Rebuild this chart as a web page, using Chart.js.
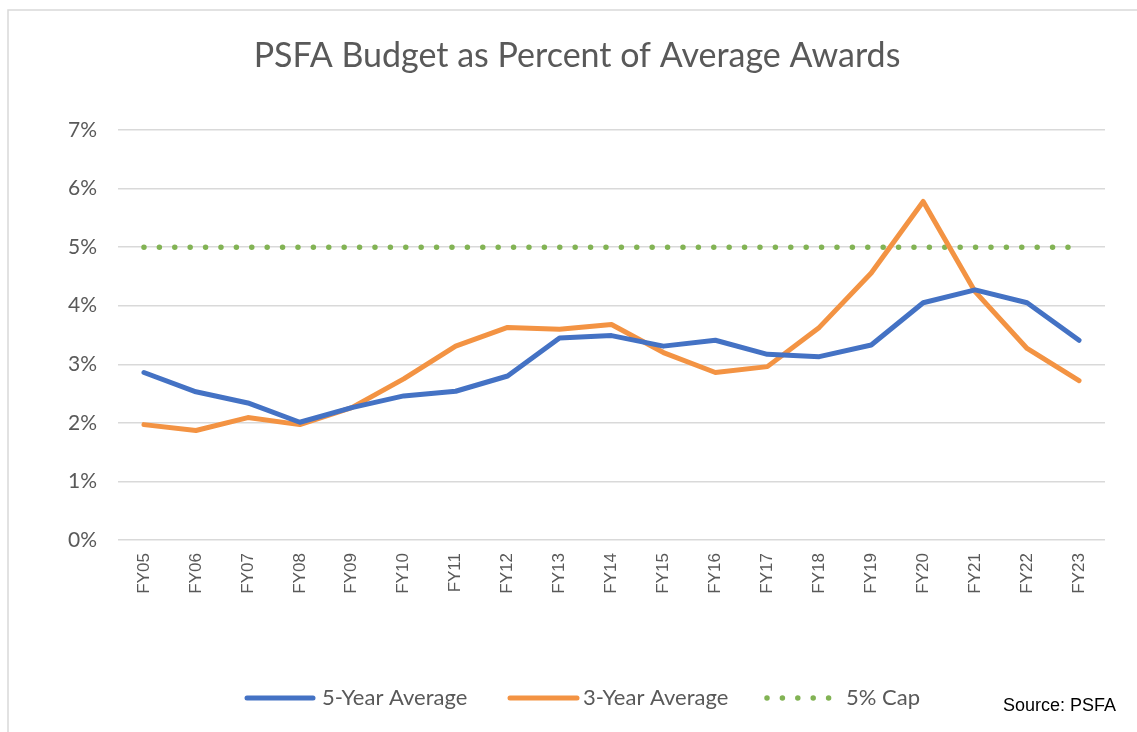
<!DOCTYPE html>
<html>
<head>
<meta charset="utf-8">
<script src="https://cdn.jsdelivr.net/npm/chart.js@4.4.0/dist/chart.umd.min.js"></script>
<style>
  html, body { margin: 0; padding: 0; background: #fff; }
  #wrap { position: relative; width: 1137px; height: 732px; }
</style>
</head>
<body>
<div id="wrap"><canvas id="c" width="1137" height="732"></canvas></div>
<script>
const categories = ['FY05','FY06','FY07','FY08','FY09','FY10','FY11','FY12','FY13','FY14','FY15','FY16','FY17','FY18','FY19','FY20','FY21','FY22','FY23'];
const fiveYearAvg = [2.86, 2.53, 2.34, 2.01, 2.26, 2.46, 2.54, 2.80, 3.45, 3.49, 3.31, 3.41, 3.17, 3.13, 3.33, 4.05, 4.27, 4.05, 3.41];
const threeYearAvg = [1.97, 1.87, 2.09, 1.97, 2.26, 2.75, 3.31, 3.63, 3.60, 3.68, 3.20, 2.86, 2.96, 3.63, 4.56, 5.78, 4.24, 3.27, 2.72];
const capValues = [5, 5, 5, 5, 5, 5, 5, 5, 5, 5, 5, 5, 5, 5, 5, 5, 5, 5, 5];
const yTicks = [0, 1, 2, 3, 4, 5, 6, 7];
const titleText = 'PSFA Budget as Percent of Average Awards';
const sourceText = 'Source: PSFA';

const BLUE = '#4472C4';
const ORANGE = '#F39343';
const GREEN = '#82B354';

const decor = {
  id: 'decor',
  beforeDraw(chart) {
    const ctx = chart.ctx;
    ctx.save();
    ctx.fillStyle = '#fff';
    ctx.fillRect(0, 0, chart.width, chart.height);
    ctx.strokeStyle = '#d9d9d9';
    ctx.lineWidth = 1.5;
    ctx.beginPath();
    ctx.moveTo(8, 732);
    ctx.lineTo(8, 10);
    ctx.lineTo(1137, 10);
    ctx.stroke();
    ctx.restore();
  },
  afterDraw(chart) {
    const ctx = chart.ctx;
    ctx.save();
    // title
    ctx.fillStyle = '#595959';
    ctx.font = '34px Lato, "Open Sans", sans-serif';
    ctx.textAlign = 'center';
    ctx.textBaseline = 'middle';
    ctx.fillText(titleText, 577, 56);
    // legend
    const ds = chart.data.datasets;
    const items = [
      { x: 247, w: 66, tx: 322 },
      { x: 510, w: 67, tx: 583 },
      { x: 767, w: 72, tx: 846 }
    ];
    const ly = 698;
    ctx.font = '22px Lato, "Open Sans", sans-serif';
    ctx.textAlign = 'left';
    ds.forEach((d, i) => {
      const it = items[i];
      ctx.strokeStyle = d.borderColor;
      ctx.lineWidth = d.borderWidth;
      ctx.lineCap = 'round';
      ctx.setLineDash(d.borderDash || []);
      ctx.beginPath();
      ctx.moveTo(it.x, ly);
      ctx.lineTo(it.x + it.w, ly);
      ctx.stroke();
      ctx.setLineDash([]);
      ctx.fillStyle = '#595959';
      ctx.fillText(d.label, it.tx, ly);
    });
    // source
    ctx.fillStyle = '#000';
    ctx.font = '18px "Liberation Sans", Arial, sans-serif';
    ctx.textAlign = 'left';
    ctx.fillText(sourceText, 1003, 706);
    ctx.restore();
  }
};

new Chart(document.getElementById('c'), {
  type: 'line',
  data: {
    labels: categories,
    datasets: [
      { label: '5-Year Average', data: fiveYearAvg, borderColor: BLUE, backgroundColor: BLUE, borderWidth: 5, pointRadius: 0, tension: 0, borderCapStyle: 'round', borderJoinStyle: 'round' },
      { label: '3-Year Average', data: threeYearAvg, borderColor: ORANGE, backgroundColor: ORANGE, borderWidth: 5, pointRadius: 0, tension: 0, borderCapStyle: 'round', borderJoinStyle: 'round' },
      { label: '5% Cap', data: capValues, borderColor: GREEN, backgroundColor: GREEN, borderWidth: 5.5, pointRadius: 0, tension: 0, borderCapStyle: 'round', borderDash: [0, 15.4] }
    ]
  },
  options: {
    responsive: false,
    animation: false,
    events: [],
    layout: { padding: { left: 0, top: 130, right: 32, bottom: 0 } },
    plugins: { legend: { display: false }, title: { display: false }, tooltip: { enabled: false } },
    scales: {
      x: {
        offset: true,
        grid: { display: false, drawTicks: false, offset: true },
        border: { display: false },
        afterFit(s) { s.height = 192; },
        ticks: {
          minRotation: 90, maxRotation: 90, padding: 13,
          color: '#595959',
          font: { family: '"Liberation Sans", Arial, sans-serif', size: 17 }
        }
      },
      y: {
        min: 0, max: 7,
        afterFit(s) { s.width = 118; },
        afterBuildTicks(s) { s.ticks = yTicks.map(v => ({ value: v })); },
        grid: { color: '#d9d9d9', lineWidth: 1.5, drawTicks: false },
        border: { display: false },
        ticks: {
          padding: 21,
          color: '#595959',
          font: { family: 'Lato, "Open Sans", sans-serif', size: 21 },
          callback: v => v + '%'
        }
      }
    }
  },
  plugins: [decor]
});
</script>
</body>
</html>
